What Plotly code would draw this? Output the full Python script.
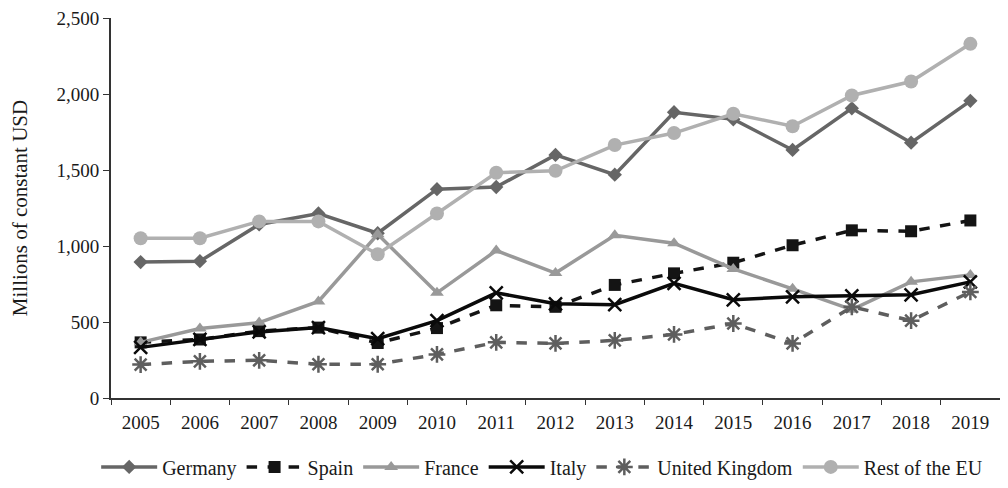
import plotly.graph_objects as go

years = [str(y) for y in range(2005, 2020)]
germany = [894, 900, 1142, 1214, 1084, 1374, 1388, 1599, 1469, 1880, 1834, 1632, 1906, 1680, 1955]
spain = [366, 385, 440, 463, 362, 460, 610, 600, 744, 820, 890, 1005, 1103, 1097, 1168]
france = [366, 457, 496, 635, 1077, 692, 970, 822, 1071, 1018, 849, 718, 581, 764, 810]
italy = [333, 385, 435, 463, 390, 509, 692, 620, 614, 754, 646, 666, 672, 679, 764]
uk = [220, 241, 248, 222, 222, 287, 366, 359, 379, 418, 490, 359, 600, 509, 698]
rest_eu = [1051, 1051, 1162, 1162, 946, 1214, 1482, 1495, 1664, 1743, 1870, 1788, 1990, 2082, 2330]

FONT = "Liberation Serif"

fig = go.Figure()

def add(name, vals, color, dash, symbol, size, lw=3.5, mline=None):
    marker = dict(symbol=symbol, size=size, color=color)
    if mline:
        marker["line"] = dict(color=color, width=mline)
    fig.add_trace(go.Scatter(
        x=years, y=vals, name=name, mode="lines+markers",
        line=dict(color=color, width=lw, dash=dash),
        marker=marker,
    ))

add("Germany", germany, "#666666", "solid", "diamond", 11)
add("Spain", spain, "#141414", "dash", "square", 12)
add("France", france, "#999999", "solid", "triangle-up", 12)
add("Italy", italy, "#0a0a0a", "solid", "x-thin-open", 13, mline=2.5)
add("United Kingdom", uk, "#5e5e5e", "dash", "asterisk-open", 14, mline=2.5)
add("Rest of the EU", rest_eu, "#b0b0b0", "solid", "circle", 14)

fig.update_layout(
    width=1000, height=480,
    margin=dict(l=103, r=8, t=10, b=90, autoexpand=False),
    paper_bgcolor="white", plot_bgcolor="white",
    font=dict(family=FONT, size=19, color="#1a1a1a"),
    showlegend=True,
    legend=dict(orientation="h", x=0.485, xanchor="center",
                yref="container", y=0.044, yanchor="middle",
                font=dict(family=FONT, size=20), itemwidth=56, tracegroupgap=0),
)
fig.update_xaxes(
    type="category", tickson="boundaries", ticks="outside", ticklen=5,
    showline=True, linecolor="#333333", linewidth=2, tickcolor="#333333",
    showgrid=False, zeroline=False, range=[-0.5, 14.5], ticklabelstandoff=6,
)
fig.update_yaxes(
    range=[0, 2500], tickvals=[0, 500, 1000, 1500, 2000, 2500],
    ticktext=["0", "500", "1,000", "1,500", "2,000", "2,500"],
    ticks="outside", ticklen=6, tickcolor="#333333",
    showline=True, linecolor="#333333", linewidth=2,
    showgrid=False, zeroline=False, ticklabeloverflow="allow",
    title=dict(text="Millions of constant USD", font=dict(family=FONT, size=21), standoff=30),
)

fig.write_html("out.html")
